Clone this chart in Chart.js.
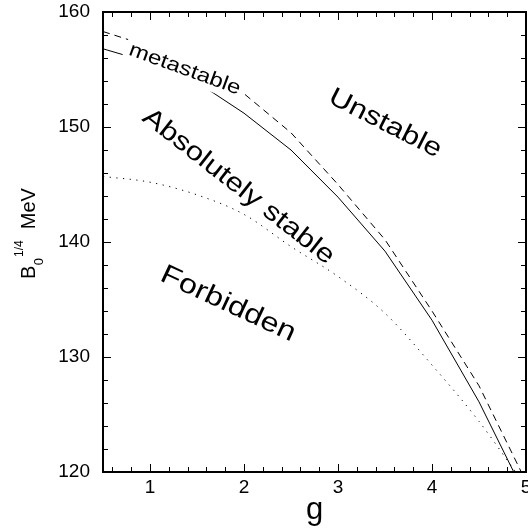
<!DOCTYPE html>
<html><head><meta charset="utf-8">
<script src="https://cdn.jsdelivr.net/npm/chart.js@4/dist/chart.umd.min.js"></script>
<style>html,body{margin:0;padding:0;overflow:hidden;background:#fff}</style>
</head><body>
<canvas id="c" width="540" height="529" style="display:block;width:540px;height:529px"></canvas>
<script>
// ---- data ----
const gSolid  = [0.5, 1.0, 1.5, 2.0, 2.5, 3.0, 3.5, 4.0, 4.5, 4.87];
const bSolid  = [156.8, 155.6, 153.9, 151.2, 148.0, 143.9, 139.2, 133.2, 126.1, 120.0];
const gDashed = [0.5, 1.0, 1.5, 2.0, 2.5, 3.0, 3.5, 4.0, 4.5, 4.95];
const bDashed = [158.3, 157.0, 155.3, 152.9, 149.5, 145.0, 140.2, 134.0, 127.5, 120.0];
const gDotted = [0.5, 1.0, 1.5, 2.0, 2.5, 3.0, 3.5, 4.0, 4.5, 4.89];
const bDotted = [145.7, 145.2, 144.1, 142.4, 139.6, 137.0, 133.8, 129.3, 124.4, 120.0];
const xTickValues = [1, 2, 3, 4, 5];
const yTickValues = [120, 130, 140, 150, 160];
const xRange = [0.5, 5];
const yRange = [120, 160];
const regionTexts = ['Unstable', 'Absolutely stable', 'Forbidden', 'metastable'];
const xTitle = 'g';

const FONT = '"Liberation Sans", Arial, Helvetica, sans-serif';
const pts = (xs, ys) => xs.map((x, i) => ({x, y: ys[i]}));

// region label placement (data coordinates, angle in degrees, font px)
const regionPlacement = [
  {g: 3.50, b: 150.3, angle: 27, size: 26, boxed: false},
  {g: 1.94, b: 144.8, angle: 38, size: 26, boxed: false},
  {g: 1.83, b: 134.6, angle: 25, size: 27, boxed: false},
  {g: 1.37, b: 155.0, angle: 20, size: 20, boxed: true}
];
const STRETCH = 1.2;

const decorPlugin = {
  id: 'decor',
  afterDatasetsDraw(chart) {
    const ctx = chart.ctx, xs = chart.scales.x, ys = chart.scales.y;
    regionTexts.forEach((t, i) => {
      const p = regionPlacement[i];
      const px = xs.getPixelForValue(p.g), py = ys.getPixelForValue(p.b);
      ctx.save();
      ctx.translate(px, py);
      ctx.rotate(p.angle * Math.PI / 180);
      ctx.scale(STRETCH, 1);
      ctx.font = p.size + 'px ' + FONT;
      ctx.textAlign = 'center';
      ctx.textBaseline = 'middle';
      if (p.boxed) {
        const w = ctx.measureText(t).width;
        ctx.fillStyle = '#fff';
        ctx.fillRect(-w / 2 - 4, -p.size * 0.8, w + 6, p.size * 1.4);
      }
      ctx.fillStyle = '#000';
      ctx.fillText(t, 0, 0);
      ctx.restore();
    });
  },
  afterDraw(chart) {
    const ctx = chart.ctx, a = chart.chartArea, xs = chart.scales.x, ys = chart.scales.y;
    ctx.save();
    // tick marks (inward, all four sides)
    ctx.strokeStyle = '#000';
    ctx.lineWidth = 1;
    ctx.beginPath();
    for (let v = 0.6; v <= xRange[1] + 1e-9; v += 0.2) {
      const major = Math.abs(v - Math.round(v)) < 1e-6;
      const len = major ? 8 : 5;
      const x = Math.round(xs.getPixelForValue(v)) + 0.5;
      ctx.moveTo(x, a.bottom); ctx.lineTo(x, a.bottom - len);
      ctx.moveTo(x, a.top); ctx.lineTo(x, a.top + len);
    }
    for (let v = yRange[0]; v <= yRange[1] + 1e-9; v += 2) {
      const major = Math.abs(v / 10 - Math.round(v / 10)) < 1e-6;
      const len = major ? 8 : 5;
      const y = Math.round(ys.getPixelForValue(v)) + 0.5;
      ctx.moveTo(a.left, y); ctx.lineTo(a.left + len, y);
      ctx.moveTo(a.right, y); ctx.lineTo(a.right - len, y);
    }
    ctx.stroke();
    // frame
    ctx.lineWidth = 2;
    ctx.strokeRect(a.left, a.top, a.right - a.left, a.bottom - a.top);
    // y-axis title: B_0^{1/4} MeV (rotated)
    ctx.translate(35, 279);
    ctx.rotate(-Math.PI / 2);
    ctx.fillStyle = '#000';
    ctx.textBaseline = 'alphabetic';
    ctx.textAlign = 'left';
    ctx.font = '20px ' + FONT;
    ctx.fillText('B', 0, 0);
    let u = ctx.measureText('B').width + 0.5;
    ctx.font = '13px ' + FONT;
    ctx.fillText('0', u, 8);
    u += ctx.measureText('0').width + 1;
    ctx.font = '12px ' + FONT;
    ctx.fillText('1/4', u, -12);
    u += ctx.measureText('1/4').width + 11;
    ctx.font = '20px ' + FONT;
    ctx.fillText('MeV', u, 0);
    ctx.restore();
  }
};

new Chart(document.getElementById('c'), {
  type: 'scatter',
  data: {
    datasets: [
      {label: 'solid', data: pts(gSolid, bSolid), showLine: true, borderColor: '#000', borderWidth: 1, pointRadius: 0, tension: 0},
      {label: 'dashed', data: pts(gDashed, bDashed), showLine: true, borderColor: '#000', borderWidth: 1, borderDash: [7, 5], pointRadius: 0, tension: 0},
      {label: 'dotted', data: pts(gDotted, bDotted), showLine: true, borderColor: '#000', borderWidth: 1, borderDash: [1.2, 5.5], pointRadius: 0, cubicInterpolationMode: 'monotone'}
    ]
  },
  options: {
    responsive: false,
    animation: false,
    events: [],
    layout: {padding: {top: 12, right: 14, left: 0, bottom: 0}},
    plugins: {legend: {display: false}, tooltip: {enabled: false}},
    scales: {
      x: {
        type: 'linear', min: xRange[0], max: xRange[1],
        grid: {display: false, drawTicks: false},
        border: {display: false},
        afterBuildTicks: s => { s.ticks = xTickValues.map(v => ({value: v})); },
        afterFit: s => { s.height = 57; s.paddingLeft = 0; s.paddingRight = 0; },
        ticks: {color: '#000', padding: 4, font: {family: FONT, size: 19}, maxRotation: 0, autoSkip: false},
        title: {display: true, text: xTitle, color: '#000', font: {family: FONT, size: 31}, padding: {top: 0, bottom: 0}}
      },
      y: {
        type: 'linear', min: yRange[0], max: yRange[1],
        grid: {display: false, drawTicks: false},
        border: {display: false},
        afterBuildTicks: s => { s.ticks = yTickValues.map(v => ({value: v})); },
        afterFit: s => { s.width = 103; s.paddingTop = 0; s.paddingBottom = 0; },
        ticks: {color: '#000', padding: 13, font: {family: FONT, size: 19}, autoSkip: false}
      }
    }
  },
  plugins: [decorPlugin]
});
</script>
</body></html>
